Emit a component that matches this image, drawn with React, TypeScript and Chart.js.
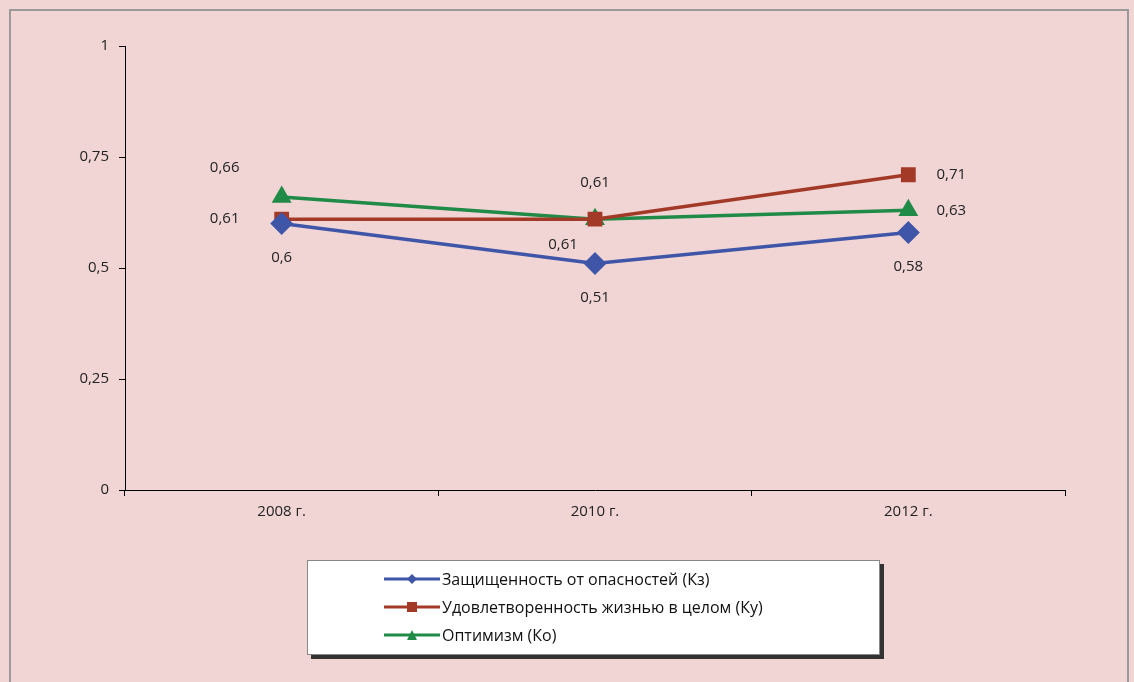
import React, { useEffect, useRef } from "react";
import { Chart, registerables } from "chart.js";
Chart.register(...registerables);

const categories = ["2008 г.", "2010 г.", "2012 г."];
const seriesNames = [
  "Защищенность от опасностей (Кз)",
  "Удовлетворенность жизнью в целом (Ку)",
  "Оптимизм (Ко)",
];
const protection = [0.6, 0.51, 0.58];
const satisfaction = [0.61, 0.61, 0.71];
const optimism = [0.66, 0.61, 0.63];
const colors = ["#3F55A8", "#A33A28", "#1F8B47"];
const markers = ["rectRot", "rect", "triangle"];
const labelPlaces = [
  ["below", "below", "below"],
  ["left", "above", "right"],
  ["aboveLeft", "belowLeft", "right"],
];

const labelPlugin = {
  id: "pointLabels",
  afterDatasetsDraw(chart: any) {
    const ctx = chart.ctx;
    ctx.save();
    ctx.font = "15px 'Open Sans', sans-serif";
    ctx.fillStyle = "#222";
    ctx.textAlign = "center";
    ctx.textBaseline = "middle";
    chart.data.datasets.forEach((ds: any, di: number) => {
      chart.getDatasetMeta(di).data.forEach((pt: any, i: number) => {
        const txt = String(ds.data[i]).replace(".", ",");
        const p = labelPlaces[di][i];
        let x = pt.x, y = pt.y;
        if (p === "below") y += 34;
        if (p === "above") y -= 36;
        if (p === "left") x -= 57;
        if (p === "right") x += 43;
        if (p === "aboveLeft") { x -= 57; y -= 29; }
        if (p === "belowLeft") { x -= 32; y += 26; }
        ctx.fillText(txt, x, y);
      });
    });
    ctx.restore();
  },
};

function Marker({ i }: { i: number }) {
  const c = colors[i];
  return (
    <svg width="56" height="14" style={{ verticalAlign: "middle" }}>
      <line x1="0" y1="7" x2="56" y2="7" stroke={c} strokeWidth="3" />
      {i === 0 && <polygon points="28,2 33,7 28,12 23,7" fill={c} />}
      {i === 1 && <rect x="23" y="2" width="10" height="10" fill={c} />}
      {i === 2 && <polygon points="28,2 33,12 23,12" fill={c} />}
    </svg>
  );
}

export default function App() {
  const ref = useRef<HTMLCanvasElement>(null);
  useEffect(() => {
    const series = [protection, satisfaction, optimism];
    const chart = new Chart(ref.current!, {
      type: "line",
      data: {
        labels: categories,
        datasets: series.map((d, i) => ({
          label: seriesNames[i],
          data: d,
          borderColor: colors[i],
          backgroundColor: colors[i],
          borderWidth: 3.5,
          pointStyle: markers[i] as any,
          pointRadius: i === 0 ? 9 : 8,
          tension: 0,
        })),
      },
      options: {
        animation: false,
        responsive: false,
        layout: { padding: { left: 80, top: 46, right: 69, bottom: 150 } },
        plugins: { legend: { display: false }, tooltip: { enabled: false } },
        scales: {
          x: {
            offset: true,
            grid: { offset: true, drawOnChartArea: false, tickLength: 6, color: "#000" },
            border: { color: "#000" },
            ticks: { color: "#222", font: { family: "'Open Sans', sans-serif", size: 15 }, padding: 7 },
            afterFit: (s: any) => { s.height = 42; },
          },
          y: {
            min: 0,
            max: 1,
            grid: { drawOnChartArea: false, tickLength: 6, color: "#000" },
            border: { color: "#000" },
            ticks: {
              stepSize: 0.25,
              color: "#222",
              font: { family: "'Open Sans', sans-serif", size: 15 },
              padding: 10,
              callback: (v: any) => String(v).replace(".", ","),
            },
            afterFit: (s: any) => { s.width = 45; },
          },
        },
      },
      plugins: [labelPlugin],
    });
    return () => chart.destroy();
  }, []);

  return (
    <div style={{ position: "fixed", left: 0, top: 0, width: 1134, height: 682, background: "#F1D5D5" }}>
      <div style={{ position: "absolute", left: 9, top: 9, width: 1116, height: 680, borderLeft: "2px solid #9a9a9a", borderTop: "2px solid #9a9a9a", borderRight: "2px solid #9a9a9a" }} />
      <canvas ref={ref} width={1134} height={682} style={{ position: "absolute", left: 0, top: 0 }} />
      <div
        style={{
          position: "absolute", left: 307, top: 560, width: 573, height: 95,
          background: "#fff", border: "1px solid #888", boxShadow: "4px 4px 0 #333",
          fontFamily: "'Open Sans', sans-serif", fontSize: 16, color: "#111",
          boxSizing: "border-box", paddingLeft: 76, paddingTop: 4,
        }}
      >
        {seriesNames.map((n, i) => (
          <div key={i} style={{ height: 28, display: "flex", alignItems: "center" }}>
            <Marker i={i} />
            <span style={{ marginLeft: 2 }}>{n}</span>
          </div>
        ))}
      </div>
    </div>
  );
}
